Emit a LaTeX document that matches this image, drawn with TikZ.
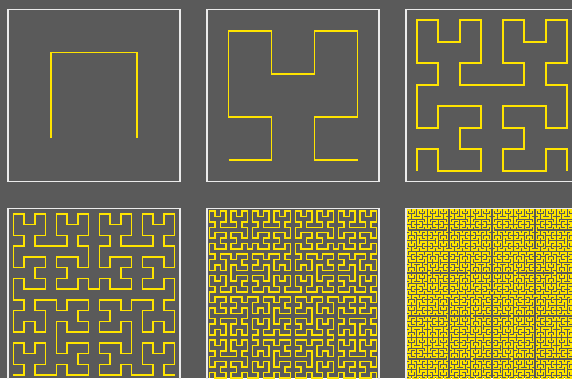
\documentclass[tikz,border=0pt]{standalone}
\definecolor{panelgrey}{RGB}{90,90,90}
\definecolor{hilbertyellow}{RGB}{255,228,0}
\definecolor{framewhite}{RGB}{235,235,235}

% turtle state for the curve: position and heading in cells
\newcount\hpx \newcount\hpy \newcount\hdx \newcount\hdy \newcount\htmp
\newdimen\hcell \newdimen\hox \newdimen\hoy
\newcommand\hturnL{\global\htmp=\hdx \global\hdx=-\hdy \global\hdy=\htmp}
\newcommand\hturnR{\global\htmp=\hdx \global\hdx=\hdy \global\hdy=-\htmp}
\newcommand\hfwd{\global\advance\hpx by\hdx \global\advance\hpy by\hdy
  \pgfpathlineto{\pgfqpoint{\dimexpr\hox+\hcell*\hpx\relax}{\dimexpr\hoy+\hcell*\hpy\relax}}}
\newcommand\hstart{\global\hpx=0 \global\hpy=0 \global\hdx=1 \global\hdy=0
  \pgfpathmoveto{\pgfqpoint{\hox}{\hoy}}}
% A -> +BF-AFA-FB+ , B -> -AF+BFB+FA-
\newcommand\hA[1]{\ifnum#1>0 \hturnL\hB{\the\numexpr#1-1\relax}\hfwd
  \hturnR\hA{\the\numexpr#1-1\relax}\hfwd\hA{\the\numexpr#1-1\relax}%
  \hturnR\hfwd\hB{\the\numexpr#1-1\relax}\hturnL\fi}
\newcommand\hB[1]{\ifnum#1>0 \hturnR\hA{\the\numexpr#1-1\relax}\hfwd
  \hturnL\hB{\the\numexpr#1-1\relax}\hfwd\hB{\the\numexpr#1-1\relax}%
  \hturnL\hfwd\hA{\the\numexpr#1-1\relax}\hturnR\fi}

\begin{document}
\begin{tikzpicture}[x=1pt, y=1pt,
    panelframe/.style={draw=framewhite, line width=1.4pt},
    hilbertline/.style={draw=hilbertyellow, line width=1.6pt, line join=miter}
]
\fill[panelgrey] (0,0) rectangle (572,378);
\clip (0,0) rectangle (572,378);
% one panel per order, three to a row
\foreach \n in {1,...,6} {
  \pgfmathtruncatemacro{\col}{mod(\n-1,3)}
  \pgfmathtruncatemacro{\row}{(\n-1)/3}
  \pgfmathsetmacro{\cell}{172/2^\n}
  \coordinate (panel\n) at ({8+199*\col},{196.5-199*\row});
  \draw[panelframe] (panel\n) rectangle ++(172,172);
  \hcell=\cell pt
  \hox=\dimexpr 8pt+199pt*\col+\hcell/2\relax
  \hoy=\dimexpr 196.5pt-199pt*\row+\hcell/2\relax
  \draw[hilbertline] \pgfextra{\hstart\hA{\n}};
}
\end{tikzpicture}
\end{document}
